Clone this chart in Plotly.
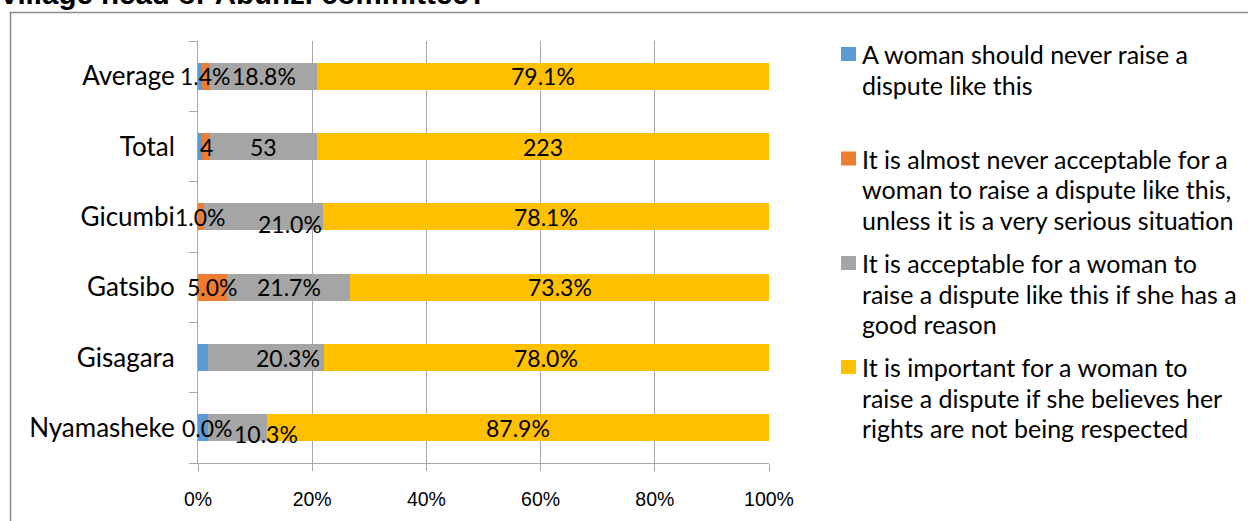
import plotly.graph_objects as go

# ---------------- data ----------------
categories = ["Nyamasheke", "Gisagara", "Gatsibo", "Gicumbi", "Total", "Average"]
series_names = [
    "A woman should never raise a|dispute like this",
    "It is almost never acceptable for a|woman to raise a dispute like this,|unless it is a very serious situation",
    "It is acceptable for a woman to|raise a dispute like this if she has a|good reason",
    "It is important for a woman to|raise a dispute if she believes her|rights are not being respected",
]
never_vals = [1.7, 1.7, 0.0, 0.0, 2, 0.7]
almost_never_vals = [0.0, 0.0, 5.0, 1.0, 4, 1.4]
acceptable_vals = [10.3, 20.3, 21.7, 21.0, 53, 18.8]
important_vals = [87.9, 78.0, 73.3, 78.1, 223, 79.1]
count_rows = ["Total"]
# which segment labels are displayed (per series, per category)
show_never = [False] * 6
show_almost = [True, False, True, True, True, True]
show_accept = [True] * 6
show_important = [True] * 6
x_tickvals = [0, 20, 40, 60, 80, 100]
x_ticktext = ["0%", "20%", "40%", "60%", "80%", "100%"]
title_text = "village head or Abunzi committee?"

colors = ["#5B9BD5", "#ED7D31", "#A5A5A5", "#FFC000"]
all_vals = [never_vals, almost_never_vals, acceptable_vals, important_vals]
all_show = [show_never, show_almost, show_accept, show_important]
# manual label nudges (px) for the grey series, as in the original
accept_shift = {"Nyamasheke": (29, -6), "Gisagara": (22, 0), "Gicumbi": (26, -7)}

W, H = 1248, 521
L, R, T, B = 198, 479, 41, 58
pw, ph = W - L - R, H - T - B


def px_x(px):
    return (px - L) / pw


def px_y(py):
    return 1 - (py - T) / ph


fig = go.Figure()
for i, (name, vals, col) in enumerate(zip(series_names, all_vals, colors)):
    fig.add_trace(go.Bar(
        y=categories, x=vals, orientation="h", name=name.replace("|", " "),
        marker=dict(color=col, line=dict(width=0)),
        hoverinfo="skip", showlegend=False,
    ))

LABEL_FONT = dict(family="Lato, 'Open Sans', sans-serif", size=23, color="black")
annotations = []
for ci, cat in enumerate(categories):
    row = [v[ci] for v in all_vals]
    tot = sum(row)
    cum = 0.0
    for si, v in enumerate(row):
        pct = v / tot * 100
        mid = cum + pct / 2
        cum += pct
        if not all_show[si][ci]:
            continue
        txt = f"{v:.0f}" if cat in count_rows else f"{v:.1f}%"
        dx, dy = (accept_shift.get(cat, (0, 0)) if si == 2 else (0, 0))
        annotations.append(dict(
            x=mid, y=cat, xref="x", yref="y", text=txt, showarrow=False,
            font=LABEL_FONT, xshift=dx, yshift=dy,
        ))

# cropped title at top
annotations.append(dict(
    x=px_x(-1), y=px_y(12.5), xref="paper", yref="paper",
    xanchor="left", yanchor="bottom", text=f"<b>{title_text}</b>",
    showarrow=False, font=dict(family="Liberation Sans, Arial, sans-serif", size=29.5, color="black"),
))

shapes = [dict(
    type="rect", xref="paper", yref="paper",
    x0=px_x(10.5), x1=px_x(W + 20), y0=px_y(H + 20), y1=px_y(12.5),
    line=dict(color="#8C8C8C", width=1.5), fillcolor="rgba(0,0,0,0)", layer="below",
)]

# legend (drawn as shapes + text lines, first line aligned with the swatch)
LEG_FONT = dict(family="Lato, 'Open Sans', sans-serif", size=25, color="black")
leg_first_line = [54, 158.5, 263, 367]
leg_line_gap = 30.5
for name, col, y0 in zip(series_names, colors, leg_first_line):
    shapes.append(dict(
        type="rect", xref="paper", yref="paper",
        x0=px_x(841), x1=px_x(856), y0=px_y(y0 + 7), y1=px_y(y0 - 7),
        line=dict(width=0), fillcolor=col,
    ))
    for k, line in enumerate(name.split("|")):
        annotations.append(dict(
            x=px_x(860), y=px_y(y0 + k * leg_line_gap), xref="paper", yref="paper",
            xanchor="left", yanchor="middle", text=line, showarrow=False, font=LEG_FONT,
        ))

fig.update_layout(
    width=W, height=H,
    margin=dict(l=L, r=R, t=T, b=B, pad=0),
    paper_bgcolor="white", plot_bgcolor="white",
    barmode="stack", barnorm="percent", bargap=0.614,
    showlegend=False,
    xaxis=dict(
        range=[0, 100], tickvals=x_tickvals, ticktext=x_ticktext,
        showgrid=True, gridcolor="#A8A8A8", gridwidth=1,
        showline=True, linecolor="#A8A8A8", linewidth=1,
        ticks="outside", ticklen=7, tickcolor="#A8A8A8",
        zeroline=False, fixedrange=True,
        tickfont=dict(family="'Liberation Sans', Arial, sans-serif", size=19.5, color="black"),
        ticklabelstandoff=12,
    ),
    yaxis=dict(
        type="category", categoryorder="array", categoryarray=categories,
        showgrid=False, showline=True, linecolor="#A8A8A8", linewidth=1,
        ticks="outside", ticklen=8, tickcolor="#A8A8A8", tickson="boundaries",
        tickfont=dict(family="Lato, 'Open Sans', sans-serif", size=26, color="black"),
        ticklabelstandoff=17, fixedrange=True,
    ),
    annotations=annotations, shapes=shapes,
)

fig.write_html("out.html", config={"displayModeBar": False},
               post_script="document.body.style.margin='0px';")
